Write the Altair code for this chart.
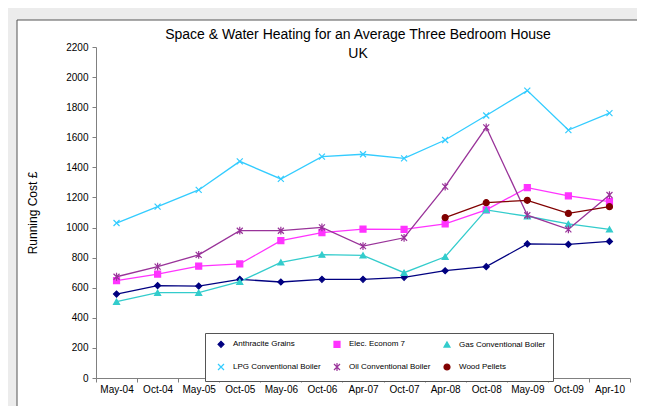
import altair as alt
import pandas as pd

dates = ["May-04", "Oct-04", "May-05", "Oct-05", "May-06", "Oct-06", "Apr-07",
         "Oct-07", "Apr-08", "Oct-08", "May-09", "Oct-09", "Apr-10"]

series_names = ["Anthracite Grains", "Elec. Econom 7", "Gas Conventional Boiler",
                "LPG Conventional Boiler", "Oil Conventional Boiler", "Wood Pellets"]

anthracite = [558, 614, 611, 656, 638, 656, 656, 669, 713, 740, 891, 888, 908]
elec_e7 = [647, 691, 744, 758, 913, 966, 990, 988, 1024, 1117, 1265, 1210, 1172]
gas = [507, 567, 567, 640, 769, 820, 815, 700, 806, 1117, 1075, 1024, 988]
lpg = [1030, 1139, 1250, 1440, 1323, 1471, 1487, 1460, 1582, 1745, 1910, 1648, 1760]
oil = [673, 740, 818, 979, 979, 1001, 877, 932, 1272, 1666, 1082, 988, 1216]
wood = [None, None, None, None, None, None, None, None, 1066, 1165, 1181, 1094, 1139]

colors = ["#000080", "#FF33FF", "#33CCCC", "#33CCFF", "#993399", "#800000"]
shapes = ["diamond", "square", "triangle-up",
          "M-1,-1L1,1M-1,1L1,-1",
          "M-1,-1L1,1M-1,1L1,-1M0,-1.3L0,1.3",
          "circle"]

rows = []
for name, vals in zip(series_names, [anthracite, elec_e7, gas, lpg, oil, wood]):
    for d, v in zip(dates, vals):
        if v is not None:
            rows.append({"date": d, "series": name, "cost": v})
df = pd.DataFrame(rows)

FONT = "Liberation Sans, Arial, sans-serif"

x_enc = alt.X("date:N", sort=dates, title=None,
              scale=alt.Scale(type="band", paddingInner=0, paddingOuter=0),
              axis=alt.Axis(labelAngle=0, tickBand="extent", tickSize=4,
                            labelPadding=2, labelFont=FONT, labelFontSize=10,
                            labelColor="black", domainColor="#808080",
                            tickColor="#808080", grid=False, zindex=2))
y_enc = alt.Y("cost:Q", title="Running Cost £",
              scale=alt.Scale(domain=[0, 2200], nice=False),
              axis=alt.Axis(values=list(range(0, 2201, 200)), format="d", tickSize=4,
                            labelPadding=4, labelFont=FONT, labelFontSize=10,
                            labelColor="black", domainColor="#808080",
                            tickColor="#808080", grid=False, zindex=2,
                            titleFont=FONT, titleFontSize=12,
                            titleFontWeight="normal", titleColor="black",
                            titlePadding=26))

color_scale = alt.Scale(domain=series_names, range=colors)
legend = alt.Legend(orient="none", legendX=109, legendY=286, columns=3,
                    direction="horizontal",
                    title=None, strokeColor="#555555", fillColor="white",
                    padding=7, symbolOffset=5, labelOffset=8, zindex=3,
                    labelFont=FONT, labelFontSize=8, labelColor="black",
                    symbolSize=36, symbolStrokeWidth=1.2,
                    rowPadding=10, columnPadding=7)

frame = alt.Chart(alt.Data(values=[{}])).mark_rect(
    fill="white", stroke="#555555", strokeWidth=1
).encode(x=alt.value(-79), x2=alt.value(560), y=alt.value(-27), y2=alt.value(366))

lines = alt.Chart(df).mark_line(strokeWidth=1.3).encode(
    x=x_enc, y=y_enc,
    color=alt.Color("series:N", scale=color_scale, legend=legend),
    detail="series:N",
)

points = alt.Chart(df).mark_point(filled=False, opacity=1, strokeWidth=1.2, size=36).encode(
    x=x_enc, y=y_enc,
    color=alt.Color("series:N", scale=color_scale, legend=legend),
    fill=alt.Fill("series:N", scale=alt.Scale(domain=series_names, range=colors), legend=legend),
    shape=alt.Shape("series:N", scale=alt.Scale(domain=series_names, range=shapes), legend=legend),
)

chart = alt.layer(frame, lines, points).properties(
    width=534, height=331,
    autosize=alt.AutoSizeParams(type="none"),
    padding={"left": 88, "top": 39, "right": 7, "bottom": 28},
    background="#ececec",
    title=alt.Title(["Space & Water Heating for an Average Three Bedroom House", "UK"],
                    font=FONT, fontSize=14, fontWeight="normal", color="black",
                    lineHeight=19, anchor="middle", dx=-5, offset=-41, zindex=3),
).configure_view(stroke=None, fill=None)

chart.save("out.html", embed_options={"renderer": "svg", "actions": False})
